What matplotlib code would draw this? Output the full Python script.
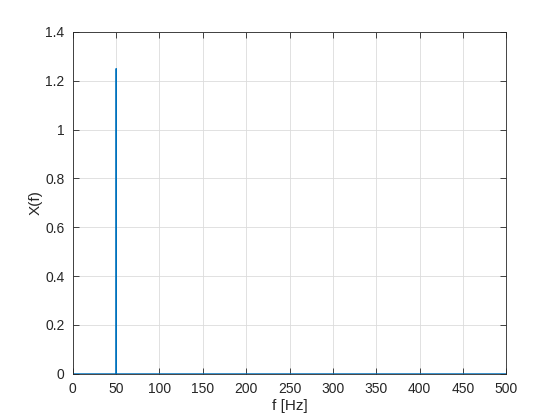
import matplotlib
matplotlib.use('Agg')
import matplotlib.pyplot as plt

# spectrum samples (Hz, magnitude) - single tone at 50 Hz
freq = [0, 49.9, 50, 50.1, 500]
mag = [0, 0, 1.25, 0, 0]

xticks = [0, 50, 100, 150, 200, 250, 300, 350, 400, 450, 500]
yticks = [0, 0.2, 0.4, 0.6, 0.8, 1, 1.2, 1.4]
ytick_labels = ['0', '0.2', '0.4', '0.6', '0.8', '1', '1.2', '1.4']

plt.rcParams['font.family'] = ['Liberation Sans', 'DejaVu Sans']

fig = plt.figure(figsize=(5.6, 4.2), dpi=100)
ax = fig.add_axes([0.130, 0.110, 0.774, 0.814])
ax.plot(freq, mag, color='#0072BD', linewidth=0.8)

ax.set_xlim(0, 500)
ax.set_ylim(0, 1.4)
ax.set_xticks(xticks)
ax.set_yticks(yticks)
ax.set_yticklabels(ytick_labels)
ax.tick_params(direction='in', length=4, width=0.6, labelsize=10, colors='#262626', pad=6,
               top=True, right=True)
ax.grid(True, color='#dcdcdc', linewidth=0.6)
ax.set_axisbelow(True)
for s in ax.spines.values():
    s.set_linewidth(0.6)
    s.set_color('#262626')

ax.set_xlabel('f [Hz]', fontsize=11, color='#262626', labelpad=2)
ax.set_ylabel('X(f)', fontsize=11, color='#262626', labelpad=2)

fig.savefig('out.png', dpi=100, facecolor='white')
